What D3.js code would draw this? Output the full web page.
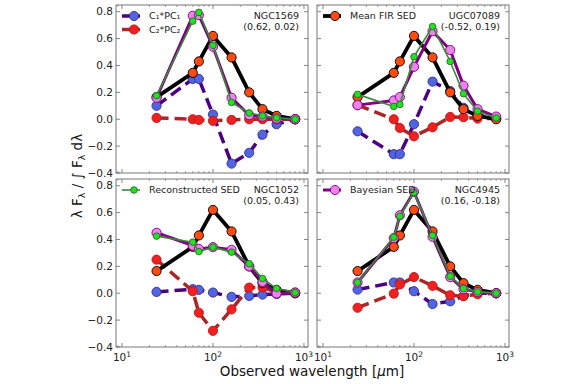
<!DOCTYPE html>
<html>
<head>
<meta charset="utf-8">
<script src="https://cdn.jsdelivr.net/npm/d3@7"></script>
<style>
  body { margin: 0; background: #fff; }
  svg { display: block; font-family: "DejaVu Sans", sans-serif; }
</style>
</head>
<body>
<div id="chart"></div>
<script>
// observed bands (micron)
const wavelengths = [24, 60, 70, 100, 160, 250, 350, 500, 800];

const galaxies = ['NGC1569', 'UGC07089', 'NGC1052', 'NGC4945'];
const coefficients = ['(0.62, 0.02)', '(-0.52, 0.19)', '(0.05, 0.43)', '(0.16, -0.18)'];

// same mean template in every panel
const meanSED = [0.165, 0.345, 0.43, 0.62, 0.46, 0.20, 0.075, 0.025, 0.0];

// one row per galaxy, same order as `galaxies`
const bayesianSED = [
  [0.16, 0.77, 0.775, 0.54, 0.16, 0.03, 0.02, 0.005, 0.0],
  [0.105, 0.14, 0.165, 0.39, 0.655, 0.515, 0.25, 0.075, 0.02],
  [0.45, 0.355, 0.33, 0.343, 0.323, 0.20, 0.085, -0.002, 0.005],
  [0.08, 0.41, 0.58, 0.755, 0.42, 0.12, 0.03, 0.01, 0.0]
];
const reconstructedSED = [
  [0.175, 0.73, 0.795, 0.55, 0.125, 0.047, 0.025, 0.01, 0.0],
  [0.185, 0.095, 0.11, 0.465, 0.69, 0.43, 0.19, 0.06, 0.01],
  [0.425, 0.38, 0.31, 0.343, 0.306, 0.22, 0.11, 0.035, 0.005],
  [0.08, 0.417, 0.573, 0.75, 0.43, 0.126, 0.035, 0.01, 0.0]
];
const c1pc1 = [
  [0.10, 0.30, 0.30, 0.035, -0.33, -0.25, -0.115, -0.037, 0.0],
  [-0.09, -0.26, -0.26, -0.037, 0.28, 0.21, 0.085, 0.03, 0.005],
  [0.01, 0.03, 0.025, 0.005, -0.027, -0.02, -0.01, -0.005, 0.0],
  [0.027, 0.08, 0.08, 0.015, -0.08, -0.06, -0.02, 0.0, 0.0]
];
const c2pc2 = [
  [0.01, 0.0, -0.005, -0.012, -0.005, 0.0, 0.0, 0.0, 0.0],
  [0.105, 0.0, -0.065, -0.127, -0.06, 0.017, 0.015, 0.005, 0.005],
  [0.25, 0.015, -0.145, -0.28, -0.12, 0.042, 0.042, 0.01, 0.005],
  [-0.108, -0.003, 0.065, 0.12, 0.055, -0.015, -0.022, -0.007, 0.0]
];

const yTicks = [-0.4, -0.2, 0.0, 0.2, 0.4, 0.6, 0.8];
const xTicks = [10, 100, 1000];

const width = 576, height = 384;

const styles = {
  c1:    { label: 'C\u2081*PC\u2081', line: '#4b0082', fill: '#4f66e0', edge: '#3a2a8a', lw: 3.5, r: 4.6, dash: '12,6' },
  c2:    { label: 'C\u2082*PC\u2082', line: '#a82828', fill: '#ee2020', edge: '#c01818', lw: 3.5, r: 4.6, dash: '12,6' },
  mean:  { label: 'Mean FIR SED', line: '#000', fill: '#ff4a12', edge: '#000', lw: 3.8, r: 4.6 },
  bayes: { label: 'Bayesian SED', line: '#800080', fill: '#ee82ee', edge: '#800080', lw: 3, r: 4.6 },
  recon: { label: 'Reconstructed SED', line: '#3a8a3a', fill: '#22e022', edge: '#2a6a2a', lw: 1.6, r: 3.3 }
};

const panels = [
  { x0: 116, x1: 308, y0: 5, y1: 173, legend: ['c1', 'c2'], yLabels: true, xLabels: false },
  { x0: 317, x1: 509, y0: 5, y1: 173, legend: ['mean'], yLabels: false, xLabels: false },
  { x0: 116, x1: 308, y0: 179, y1: 347, legend: ['recon'], yLabels: true, xLabels: true },
  { x0: 317, x1: 509, y0: 179, y1: 347, legend: ['bayes'], yLabels: false, xLabels: true }
];

const svg = d3.select('#chart').append('svg')
  .attr('width', width)
  .attr('height', height);

function minorTicks(domain) {
  const out = [];
  for (const dec of [1, 10, 100, 1000]) {
    for (let k = 2; k <= 9; k++) {
      const v = dec * k;
      if (v > domain[0] && v < domain[1]) out.push(v);
    }
  }
  return out;
}

panels.forEach((p, i) => {
  const x = d3.scaleLog().domain([8.6, 1107]).range([p.x0, p.x1]);
  const y = d3.scaleLinear().domain([-0.4, 0.85]).range([p.y1, p.y0]);
  const g = svg.append('g');

  // ticks, pointing inward on all four sides
  const tickCol = '#666';
  const minors = minorTicks(x.domain());
  [[p.y1, -1], [p.y0, 1]].forEach(([yy, dir]) => {
    g.selectAll(null).data(xTicks).enter().append('line')
      .attr('x1', d => x(d)).attr('x2', d => x(d))
      .attr('y1', yy).attr('y2', yy + dir * 4)
      .attr('stroke', tickCol).attr('stroke-width', 0.8);
    g.selectAll(null).data(minors).enter().append('line')
      .attr('x1', d => x(d)).attr('x2', d => x(d))
      .attr('y1', yy).attr('y2', yy + dir * 2)
      .attr('stroke', tickCol).attr('stroke-width', 0.6);
  });
  [[p.x0, 1], [p.x1, -1]].forEach(([xx, dir]) => {
    g.selectAll(null).data(yTicks).enter().append('line')
      .attr('x1', xx).attr('x2', xx + dir * 4)
      .attr('y1', d => y(d)).attr('y2', d => y(d))
      .attr('stroke', tickCol).attr('stroke-width', 0.8);
  });

  if (p.yLabels) {
    g.selectAll(null).data(yTicks).enter().append('text')
      .attr('x', p.x0 - 3)
      .attr('y', d => y(d) + 3.6)
      .attr('text-anchor', 'end')
      .attr('font-size', 10.5)
      .attr('fill', '#222')
      .text(d => d3.format('.1f')(d).replace('-', '\u2212'));
  }
  if (p.xLabels) {
    xTicks.forEach(t => {
      const txt = g.append('text')
        .attr('x', x(t))
        .attr('y', p.y1 + 14)
        .attr('text-anchor', 'middle')
        .attr('font-size', 10.5)
        .attr('fill', '#222');
      txt.append('tspan').text('10');
      txt.append('tspan').attr('dy', -4).attr('font-size', 7.5).text(String(Math.log10(t)));
    });
  }

  const line = d3.line().x(d => x(d[0])).y(d => y(d[1]));

  const series = [
    ['c1', c1pc1[i]],
    ['c2', c2pc2[i]],
    ['mean', meanSED],
    ['bayes', bayesianSED[i]],
    ['recon', reconstructedSED[i]]
  ];

  const clipId = 'clip' + i;
  svg.append('clipPath').attr('id', clipId).append('rect')
    .attr('x', p.x0).attr('y', p.y0).attr('width', p.x1 - p.x0).attr('height', p.y1 - p.y0);
  const plot = g.append('g').attr('clip-path', `url(#${clipId})`);

  series.forEach(([key, vals]) => {
    const s = styles[key];
    const pts = wavelengths.map((w, j) => [w, vals[j]]);
    plot.append('path')
      .datum(pts)
      .attr('d', line)
      .attr('fill', 'none')
      .attr('stroke', s.line)
      .attr('stroke-width', s.lw)
      .attr('stroke-linejoin', 'round')
      .attr('stroke-dasharray', s.dash || null);
    plot.selectAll(null).data(pts).enter().append('circle')
      .attr('cx', d => x(d[0]))
      .attr('cy', d => y(d[1]))
      .attr('r', s.r)
      .attr('fill', s.fill)
      .attr('stroke', s.edge)
      .attr('stroke-width', 0.9);
  });

  // frame
  g.append('rect')
    .attr('x', p.x0).attr('y', p.y0)
    .attr('width', p.x1 - p.x0).attr('height', p.y1 - p.y0)
    .attr('fill', 'none')
    .attr('stroke', '#777')
    .attr('stroke-width', 1);

  // legend
  p.legend.forEach((key, k) => {
    const s = styles[key];
    const ly = p.y0 + 11 + k * 13.5;
    const lx = p.x0 + 6;
    g.append('line')
      .attr('x1', lx).attr('x2', lx + 18)
      .attr('y1', ly).attr('y2', ly)
      .attr('stroke', s.line).attr('stroke-width', s.lw);
    g.append('circle')
      .attr('cx', lx + 12).attr('cy', ly).attr('r', s.r)
      .attr('fill', s.fill).attr('stroke', s.edge).attr('stroke-width', 0.9);
    g.append('text')
      .attr('x', lx + 27).attr('y', ly + 3.4)
      .attr('font-size', 9.5)
      .attr('fill', '#222')
      .text(s.label);
  });

  // galaxy name and coefficients
  g.append('text')
    .attr('x', p.x1 - 9).attr('y', p.y0 + 14)
    .attr('text-anchor', 'end')
    .attr('font-size', 9.5)
    .attr('fill', '#222')
    .text(galaxies[i]);
  g.append('text')
    .attr('x', p.x1 - 9).attr('y', p.y0 + 25)
    .attr('text-anchor', 'end')
    .attr('font-size', 9.5)
    .attr('fill', '#222')
    .text(coefficients[i]);
});

// axis titles
svg.append('text')
  .attr('x', 312).attr('y', 376)
  .attr('text-anchor', 'middle')
  .attr('font-size', 13.5)
  .attr('fill', '#111')
  .html('Observed wavelength [<tspan font-style="italic">\u03bc</tspan>m]');

const yl = svg.append('text')
  .attr('transform', 'translate(82,176) rotate(-90)')
  .attr('text-anchor', 'middle')
  .attr('font-size', 13.5)
  .attr('fill', '#111');
yl.append('tspan').text('\u03bb F');
yl.append('tspan').attr('font-size', 9.5).attr('dy', 3).text('\u03bb');
yl.append('tspan').attr('dy', -3).text(' / \u222b F');
yl.append('tspan').attr('font-size', 9.5).attr('dy', 3).text('\u03bb');
yl.append('tspan').attr('dy', -3).text(' d\u03bb');
</script>
</body>
</html>
